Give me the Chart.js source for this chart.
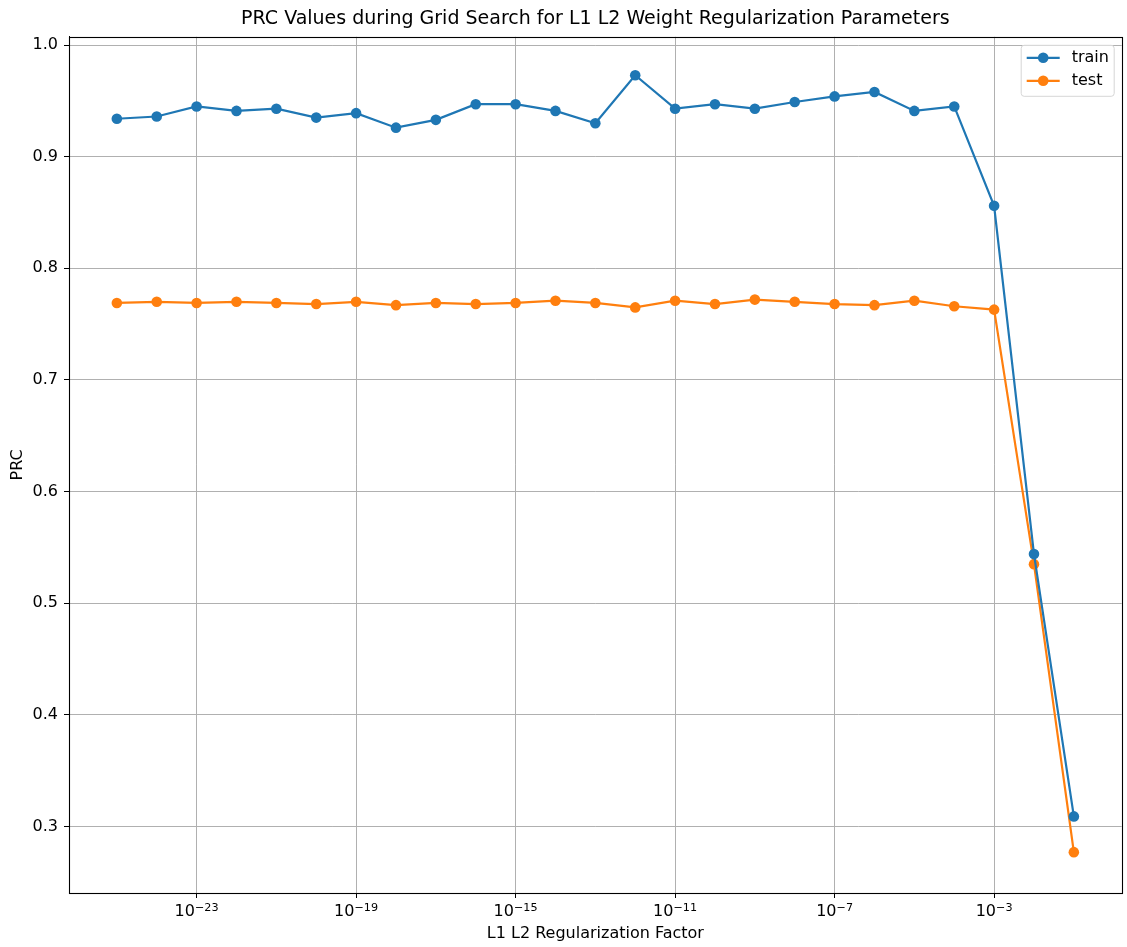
<!DOCTYPE html>
<html>
<head>
<meta charset="utf-8">
<script src="https://cdn.jsdelivr.net/npm/chart.js@4"></script>
<style>
  html, body { margin: 0; padding: 0; background: #fff; }
  #wrap { width: 1127px; height: 947px; }
</style>
</head>
<body>
<div id="wrap"><canvas id="prcChart" width="1127" height="947"></canvas></div>
<script>
// regularization factors tried in the grid search
const factors = [1e-25, 1e-24, 1e-23, 1e-22, 1e-21, 1e-20, 1e-19, 1e-18, 1e-17, 1e-16,
  1e-15, 1e-14, 1e-13, 1e-12, 1e-11, 1e-10, 1e-9, 1e-8, 1e-7, 1e-6,
  1e-5, 1e-4, 1e-3, 1e-2, 1e-1];

const trainPrc = [0.934, 0.936, 0.945, 0.941, 0.943, 0.935, 0.939, 0.926, 0.933, 0.947,
  0.947, 0.941, 0.930, 0.973, 0.943, 0.947, 0.943, 0.949, 0.954, 0.958,
  0.941, 0.945, 0.856, 0.544, 0.309];

const testPrc = [0.769, 0.770, 0.769, 0.770, 0.769, 0.768, 0.770, 0.767, 0.769, 0.768,
  0.769, 0.771, 0.769, 0.765, 0.771, 0.768, 0.772, 0.770, 0.768, 0.767,
  0.771, 0.766, 0.763, 0.535, 0.277];

const xTicks = [1e-23, 1e-19, 1e-15, 1e-11, 1e-7, 1e-3];
const yTicks = [0.3, 0.4, 0.5, 0.6, 0.7, 0.8, 0.9, 1.0];

const FONT = "'DejaVu Sans', 'Liberation Sans', sans-serif";

// matplotlib style frame around the axes
const framePlugin = {
  id: 'frame',
  afterDraw(chart) {
    const { ctx, chartArea: a } = chart;
    ctx.save();
    ctx.strokeStyle = '#000';
    ctx.lineWidth = 1.1;
    ctx.strokeRect(Math.round(a.left) + 0.5, Math.round(a.top) + 0.5,
      Math.round(a.right - a.left), Math.round(a.bottom - a.top));
    ctx.restore();
  }
};

// 10^n tick labels with a real raised exponent
const powTicksPlugin = {
  id: 'powTicks',
  afterDraw(chart) {
    const { ctx } = chart;
    const sx = chart.scales.x;
    const base = chart.chartArea.bottom;
    ctx.save();
    ctx.fillStyle = '#000';
    ctx.textBaseline = 'alphabetic';
    ctx.textAlign = 'left';
    sx.ticks.forEach(t => {
      const e = Math.round(Math.log10(t.value));
      const exp = (e < 0 ? '\u2212' : '') + Math.abs(e);
      ctx.font = '16px ' + FONT;
      const w1 = ctx.measureText('10').width;
      ctx.font = '11.2px ' + FONT;
      const w2 = ctx.measureText(exp).width;
      const x0 = sx.getPixelForValue(t.value) - (w1 + w2) / 2;
      ctx.font = '16px ' + FONT;
      ctx.fillText('10', x0, base + 23);
      ctx.font = '11.2px ' + FONT;
      ctx.fillText(exp, x0 + w1, base + 17.5);
    });
    ctx.restore();
  }
};

// legend inside the axes, upper right, with line + marker keys
const legendPlugin = {
  id: 'innerLegend',
  afterDraw(chart) {
    const { ctx, chartArea: a } = chart;
    const sets = chart.data.datasets;
    const w = 93, h = 51;
    const x = a.right - 8 - w, y = a.top + 8;
    ctx.save();
    ctx.fillStyle = 'rgba(255,255,255,0.8)';
    ctx.strokeStyle = '#d6d6d6';
    ctx.lineWidth = 1;
    ctx.beginPath();
    ctx.roundRect(x + 0.5, y + 0.5, w, h, 3);
    ctx.fill();
    ctx.stroke();
    ctx.font = '16px ' + FONT;
    ctx.textBaseline = 'middle';
    sets.forEach((ds, i) => {
      const cy = y + 13 + i * 23;
      ctx.strokeStyle = ds.borderColor;
      ctx.lineWidth = 2.2;
      ctx.beginPath();
      ctx.moveTo(x + 6, cy);
      ctx.lineTo(x + 39, cy);
      ctx.stroke();
      ctx.fillStyle = ds.borderColor;
      ctx.beginPath();
      ctx.arc(x + 22.5, cy, 5.3, 0, Math.PI * 2);
      ctx.fill();
      ctx.fillStyle = '#000';
      ctx.fillText(ds.label, x + 51, cy);
    });
    ctx.restore();
  }
};

const ctx = document.getElementById('prcChart').getContext('2d');
new Chart(ctx, {
  type: 'line',
  data: {
    datasets: [
      {
        label: 'train',
        data: factors.map((f, i) => ({ x: f, y: trainPrc[i] })),
        borderColor: '#1f77b4',
        backgroundColor: '#1f77b4',
        borderWidth: 2.2,
        pointRadius: 5.3,
        pointBorderWidth: 0,
        tension: 0
      },
      {
        label: 'test',
        data: factors.map((f, i) => ({ x: f, y: testPrc[i] })),
        borderColor: '#ff7f0e',
        backgroundColor: '#ff7f0e',
        borderWidth: 2.2,
        pointRadius: 5.3,
        pointBorderWidth: 0,
        tension: 0
      }
    ]
  },
  options: {
    responsive: false,
    animation: false,
    layout: { padding: { left: 0, right: 2, top: 0, bottom: 0 } },
    plugins: {
      legend: { display: false },
      tooltip: { enabled: false },
      title: {
        display: true,
        fullSize: false,
        text: 'PRC Values during Grid Search for L1 L2 Weight Regularization Parameters',
        color: '#000',
        font: { family: FONT, size: 19, weight: 'normal' },
        padding: { top: 8, bottom: 6 }
      }
    },
    scales: {
      x: {
        type: 'logarithmic',
        min: Math.pow(10, -26.2),
        max: Math.pow(10, 0.2),
        afterBuildTicks: s => { s.ticks = xTicks.map(v => ({ value: v })); },
        afterFit: s => { s.height = 54; },
        ticks: { display: false },
        grid: { color: '#b0b0b0', lineWidth: 1, tickColor: '#000', tickLength: 5 },
        border: { color: '#000', width: 1 },
        title: {
          display: true,
          text: 'L1 L2 Regularization Factor',
          color: '#000',
          font: { family: FONT, size: 16 },
          padding: { top: 0, bottom: 3.4 }
        }
      },
      y: {
        type: 'linear',
        min: 0.2404,
        max: 1.0074,
        afterBuildTicks: s => { s.ticks = yTicks.map(v => ({ value: v })); },
        afterFit: s => { s.width = 69; },
        ticks: {
          color: '#000',
          font: { family: FONT, size: 16 },
          padding: 6,
          callback: v => v.toFixed(1)
        },
        grid: { color: '#b0b0b0', lineWidth: 1, tickColor: '#000', tickLength: 5 },
        border: { color: '#000', width: 1 },
        title: {
          display: true,
          text: 'PRC',
          color: '#000',
          font: { family: FONT, size: 16 },
          padding: { top: 8.7, bottom: 0 }
        }
      }
    }
  },
  plugins: [framePlugin, powTicksPlugin, legendPlugin]
});
</script>
</body>
</html>
